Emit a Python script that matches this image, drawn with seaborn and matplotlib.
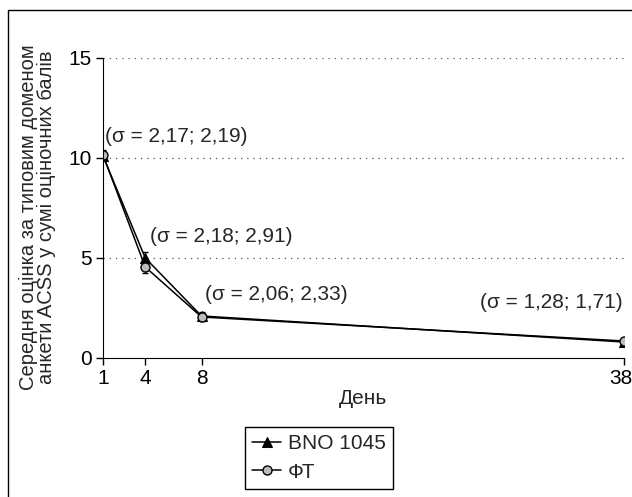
import numpy as np
import pandas as pd
import matplotlib
matplotlib.use('Agg')
import matplotlib.pyplot as plt
import matplotlib.transforms as mtransforms
import seaborn as sns
from matplotlib.patches import Rectangle

sns.set_style('ticks')
plt.rcParams['font.family'] = ['Liberation Sans', 'DejaVu Sans']

days = [1, 4, 8, 38]
bno = [10.1, 5.0, 2.1, 0.8]
bno_err = [0.25, 0.3, 0.2, 0.12]
ft = [10.15, 4.55, 2.05, 0.85]
ft_err = [0.25, 0.3, 0.2, 0.12]
sigma_labels = ['(σ = 2,17; 2,19)', '(σ = 2,18; 2,91)', '(σ = 2,06; 2,33)', '(σ = 1,28; 1,71)']
label_x = [1.12, 4.35, 8.25, 37.95]
label_y = [11.05, 6.05, 3.15, 2.75]

df = pd.DataFrame({'day': days * 2, 'score': bno + ft,
                   'group': ['BNO 1045'] * 4 + ['ФТ'] * 4})

fig = plt.figure(figsize=(6.32, 4.97), dpi=100)
ax = fig.add_axes([0.163, 0.2797, 0.824, 0.6036])

# outer frame of the figure
fig.patches.append(Rectangle((8 / 632, -0.1), 1.2, 1 - 10 / 497 + 0.1, transform=fig.transFigure,
                             fill=False, edgecolor='black', lw=1.0))

ax.errorbar(days, bno, yerr=bno_err, fmt='none', ecolor='black', elinewidth=1, capsize=2.5)
ax.errorbar(days, ft, yerr=ft_err, fmt='none', ecolor='black', elinewidth=1, capsize=2.5)
sns.lineplot(data=df[df.group == 'BNO 1045'], x='day', y='score', ax=ax, color='black',
             marker='^', markersize=6.5, markerfacecolor='black', markeredgecolor='black',
             lw=1.1, label='BNO 1045')
sns.lineplot(data=df[df.group == 'ФТ'], x='day', y='score', ax=ax, color='black',
             marker='o', markersize=6.5, markerfacecolor='#bdbdbd', markeredgecolor='black',
             markeredgewidth=1, lw=1.1, label='ФТ')

for i, t in enumerate(sigma_labels):
    ha = 'right' if i == 3 else 'left'
    ax.text(label_x[i], label_y[i], t, fontsize=15, ha=ha, va='center')

ax.set_xlim(1, 38)
ax.set_ylim(0, 15)
ax.set_xticks(days)
ax.set_yticks([0, 5, 10, 15])
ax.tick_params(labelsize=15, length=5, width=1, colors='black', pad=3)
for y in [5, 10, 15]:
    ax.axhline(y, color='#555555', lw=0.9, ls=(0, (1, 4)), zorder=0)
sns.despine(ax=ax, top=True, right=True)
ax.spines['left'].set_color('black')
ax.spines['bottom'].set_color('black')

# last x tick label sits at the right edge, pull it in a little
lab38 = ax.get_xticklabels()[-1]
lab38.set_transform(lab38.get_transform() + mtransforms.ScaledTranslation(-3 / 100, 0, fig.dpi_scale_trans))

ax.set_xlabel('День', fontsize=15, labelpad=1)
ax.set_ylabel('Середня оцінка за типовим доменом\nанкети ACSS у сумі оціночних балів',
              fontsize=14.5, linespacing=0.95)
ax.yaxis.set_label_coords(-0.09, 0.47)

leg = ax.legend(loc='upper left', bbox_to_anchor=(245 / 632, 1 - 427 / 497),
                bbox_transform=fig.transFigure, fontsize=15, frameon=True, fancybox=False,
                edgecolor='black', framealpha=1, handlelength=1.4, handletextpad=0.3,
                borderpad=0.35, labelspacing=0.45, borderaxespad=0)
leg.get_frame().set_linewidth(1.0)

fig.savefig('out.png', dpi=100)
